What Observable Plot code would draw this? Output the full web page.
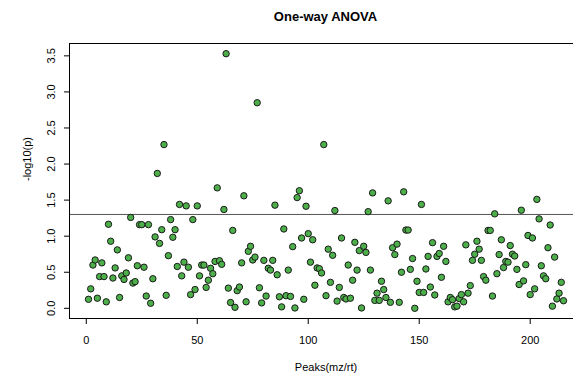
<!DOCTYPE html>
<html>
<head>
<meta charset="utf-8">
<script src="https://cdn.jsdelivr.net/npm/d3@7"></script>
<script src="https://cdn.jsdelivr.net/npm/@observablehq/plot@0.6"></script>
<style>
html, body { margin: 0; padding: 0; background: #fff; width: 573px; height: 378px; overflow: hidden; }
#title { position: relative; height: 30px; margin-left: 69px; width: 513px; text-align: center;
  font-family: "Liberation Sans", Arial, sans-serif; font-weight: bold; font-size: 13px; line-height: 34px; color: #000; white-space: nowrap; }
#chart svg { display: block; overflow: hidden; }
</style>
</head>
<body>
<div id="title">One-way ANOVA</div>
<div id="chart"></div>
<script>
// -log10(p) for each peak, in peak order (1..215)
const pValuesLog = [
  0.125, 0.27, 0.60, 0.67, 0.14, 0.44, 0.63, 0.44, 0.09, 1.165,
  0.93, 0.42, 0.56, 0.81, 0.15, 0.45, 0.40, 0.49, 0.70, 1.26,
  0.35, 0.37, 0.59, 1.16, 1.16, 0.57, 0.17, 1.16, 0.07, 0.41,
  0.99, 1.87, 0.90, 1.09, 2.27, 0.18, 0.73, 1.23, 0.985, 1.09,
  0.58, 1.44, 0.45, 0.64, 1.42, 0.57, 0.19, 1.23, 0.26, 1.42,
  0.45, 0.60, 0.60, 0.29, 0.39, 0.555, 0.48, 0.65, 1.67, 0.66,
  0.61, 1.37, 3.53, 0.28, 0.08, 1.08, 0.014, 0.245, 0.295, 0.63,
  1.56, 0.09, 0.79, 0.86, 0.67, 0.71, 2.85, 0.285, 0.075, 0.665,
  0.17, 0.555, 0.53, 0.665, 1.43, 0.465, 0.16, 0.02, 1.10, 0.175,
  0.53, 0.165, 0.855, 0.005, 1.535, 1.63, 0.975, 0.125, 1.415, 1.035,
  0.64, 0.95, 0.32, 0.56, 0.55, 0.49, 2.27, 0.175, 0.82, 0.36,
  0.735, 1.355, 0.10, 0.29, 0.975, 0.15, 0.13, 0.60, 0.14, 0.39,
  0.915, 0.53, 0.80, 0.005, 0.86, 0.775, 1.34, 0.53, 1.60, 0.11,
  0.21, 0.11, 0.375, 0.26, 0.15, 1.49, 0.083, 0.84, 0.745, 0.89,
  0.083, 0.50, 1.615, 1.085, 1.085, 0.54, 0.69, 0.0, 0.375, 0.22,
  1.44, 0.22, 0.545, 0.72, 0.295, 0.91, 0.185, 0.72, 0.76, 0.43,
  0.86, 0.65, 0.09, 0.15, 0.12, 0.02, 0.03, 0.135, 0.19, 0.09,
  0.88, 0.21, 0.315, 0.665, 0.75, 0.93, 0.82, 0.665, 0.44, 0.39,
  1.08, 1.08, 0.17, 1.31, 0.48, 0.745, 0.95, 0.565, 0.65, 0.64,
  0.87, 0.75, 0.725, 0.54, 0.33, 1.36, 0.38, 0.605, 1.01, 0.19,
  0.975, 0.27, 1.51, 1.24, 0.59, 0.45, 0.41, 0.84, 1.155, 0.03,
  0.71, 0.13, 0.21, 0.36, 0.105
];
const peakIndex = pValuesLog.map((_, i) => i + 1);
const xTicks = [0, 50, 100, 150, 200];
const yTicks = [0, 0.5, 1, 1.5, 2, 2.5, 3, 3.5];
const significance = [-Math.log10(0.05)];
const titleText = "One-way ANOVA";
const xLabel = "Peaks(mz/rt)";
const yLabel = "-log10(p)";

const rows = peakIndex.map((k, i) => ({peak: k, value: pValuesLog[i]}));

// R-style axis extension (4%)
const n = peakIndex.length;
const xExt = 0.04 * (n - 1);
const yMin = d3.min(pValuesLog), yMax = d3.max(pValuesLog);
const yExt = 0.04 * (yMax - yMin);

const chart = Plot.plot({
  width: 573,
  height: 348,
  marginLeft: 69,
  marginRight: -9,
  marginTop: 13,
  marginBottom: 60,
  style: {fontFamily: "'Liberation Sans', Arial, sans-serif", fontSize: "11px", color: "#000", background: "#fff"},
  x: {domain: [1 - xExt, n + xExt]},
  y: {domain: [yMin - yExt, yMax + yExt]},
  marks: [
    Plot.ruleY(significance, {stroke: "#555", strokeWidth: 1}),
    Plot.dot(rows, {x: "peak", y: "value", r: 3.2, fill: "#4DAF4A", stroke: "#1a1a1a", strokeWidth: 1}),
    Plot.frame({stroke: "#000", strokeWidth: 1}),
    Plot.axisX({ticks: xTicks, tickSize: 6, tickPadding: 12, label: null, fontSize: 11, stroke: "#000"}),
    Plot.axisY({ticks: yTicks, tickSize: 5, tickPadding: 10, tickRotate: -90, tickFormat: d3.format(".1f"), label: null, fontSize: 11}),
    Plot.text([xLabel], {frameAnchor: "bottom", dy: 52, lineAnchor: "bottom", fontSize: 11, fill: "#000"}),
    Plot.text([yLabel], {frameAnchor: "left", dx: -39, rotate: -90, lineAnchor: "bottom", fontSize: 11, fill: "#000"})
  ]
});
document.getElementById("chart").appendChild(chart);
document.getElementById("title").textContent = titleText;
</script>
</body>
</html>
